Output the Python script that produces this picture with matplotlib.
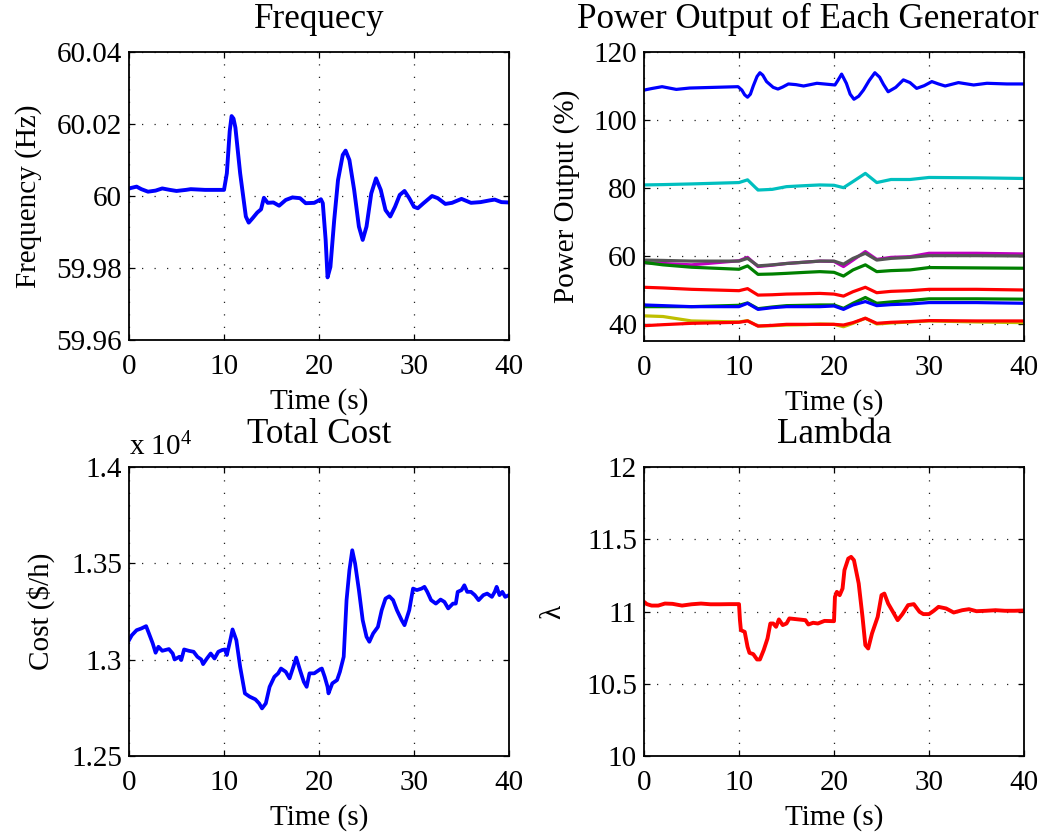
import matplotlib
matplotlib.use("Agg")
import matplotlib.pyplot as plt

plt.rcParams['font.family'] = ['Liberation Serif', 'DejaVu Serif']
plt.rcParams['font.size'] = 21
plt.rcParams['mathtext.fontset'] = 'custom'
plt.rcParams['mathtext.rm'] = 'Liberation Serif'
plt.rcParams['mathtext.default'] = 'regular'

# ---------------- Data ----------------
freq_t = [0, 0.8, 1.3, 2.0, 2.8, 3.5, 4.3, 5.0, 6.0, 6.5, 8.0, 10.0, 10.3, 10.6, 10.8, 11.0,
          11.2, 11.7, 12.3, 12.6, 13.0, 13.5, 13.9, 14.2, 14.6, 15.2, 15.8, 16.5, 17.2,
          18.0, 18.6, 19.5, 20.2, 20.4, 20.7, 20.9, 21.2, 21.6, 22.0, 22.5, 22.8, 23.2,
          23.7, 24.2, 24.6, 25.0, 25.5, 26.0, 26.5, 27.0, 27.5, 28.0, 28.5, 29.0, 29.5,
          30.0, 30.4, 31.0, 31.9, 32.5, 33.3, 34.0, 35.0, 36.0, 37.0, 38.0, 38.5, 39.2, 40.0]
freq_hz = [60.0021, 60.0026, 60.0019, 60.0012, 60.0015, 60.0021, 60.0017, 60.0014, 60.0017,
           60.0019, 60.0017, 60.0017, 60.0063, 60.0180, 60.0222, 60.0215,
           60.0190, 60.0063, 59.9943, 59.9926, 59.9938, 59.9954, 59.9963, 59.9995, 59.9981,
           59.9982, 59.9973, 59.9989, 59.9996, 59.9994, 59.9980, 59.9981, 59.9991, 59.9980,
           59.9878, 59.9774, 59.9803, 59.9933, 60.0044, 60.0114, 60.0126, 60.0100,
           60.0017, 59.9915, 59.9878, 59.9915, 60.0007, 60.0049, 60.0017, 59.9961,
           59.9943, 59.9970, 60.0003, 60.0014, 59.9994, 59.9970, 59.9966, 59.9980,
           60.0000, 59.9994, 59.9978, 59.9981, 59.9992, 59.9981, 59.9983, 59.9988,
           59.9990, 59.9983, 59.9982]

# Generator 1 (largest unit) has its own, denser time base
gen1_t = [0, 0.9, 1.9, 3.4, 4.8, 9.9, 10.3, 10.6, 10.9, 11.2, 11.5, 11.9, 12.2, 12.5, 12.9,
          13.6, 14.1, 14.6, 15.2, 16.0, 16.8, 18.2, 20.1, 20.4, 20.8, 21.3, 21.7, 22.1, 22.6,
          23.1, 23.7, 24.3, 24.8, 25.2, 25.7, 26.5, 27.3, 28.0, 28.7, 29.5, 30.3, 31.0, 31.7,
          33.1, 34.7, 36.1, 38.2, 40.0]
gen_1 = [108.8, 109.3, 109.8, 109.0, 109.4, 109.8, 108.8, 107.4, 106.7, 107.6, 110.0, 112.8,
         113.9, 113.2, 111.3, 109.6, 109.1, 109.7, 110.6, 110.4, 110.0, 110.8, 110.3, 111.6,
         113.5, 110.8, 107.6, 106.1, 107.0, 108.8, 111.6, 113.9, 112.6, 110.5, 108.3, 109.6,
         111.8, 111.0, 109.3, 110.1, 111.3, 110.6, 110.0, 111.0, 110.3, 110.8, 110.6, 110.6]

gen_t = [0, 2, 5, 10, 10.9, 12, 13.5, 15, 17, 18.5, 20, 21, 22, 23.3, 24.5, 26, 28, 30, 35, 40]
gen_2 = [80.9, 81.0, 81.2, 81.6, 82.4, 79.4, 79.6, 80.4, 80.7, 80.9, 80.8, 80.1, 81.9, 84.3,
         81.6, 82.5, 82.5, 83.1, 83.0, 82.8]
gen_3 = [58.0, 57.8, 57.4, 58.6, 59.6, 56.9, 57.3, 57.8, 58.2, 58.5, 58.4, 56.9, 58.8, 61.3,
         59.0, 59.6, 59.8, 60.8, 60.8, 60.6]
gen_4 = [58.8, 58.7, 58.5, 58.5, 59.3, 57.1, 57.4, 57.8, 58.2, 58.5, 58.5, 57.6, 59.3, 60.8,
         58.8, 59.3, 59.6, 60.1, 60.1, 60.0]
gen_5 = [58.1, 57.4, 56.7, 56.1, 57.1, 54.6, 54.7, 54.9, 55.2, 55.4, 55.2, 54.1, 55.9, 57.4,
         55.4, 55.7, 55.9, 56.6, 56.5, 56.4]
gen_6 = [50.8, 50.6, 50.2, 49.8, 50.4, 48.5, 48.6, 48.8, 48.9, 49.0, 48.8, 48.2, 49.5, 50.8,
         49.2, 49.6, 49.8, 50.2, 50.2, 50.0]
gen_7 = [45.1, 45.1, 45.1, 45.5, 46.2, 44.5, 45.0, 45.4, 45.5, 45.6, 45.6, 44.6, 46.1, 47.8,
         46.1, 46.5, 46.9, 47.4, 47.4, 47.3]
gen_8 = [45.6, 45.4, 45.1, 45.1, 46.1, 44.3, 44.8, 45.1, 45.1, 45.1, 45.3, 44.3, 45.6, 46.6,
         45.4, 45.7, 45.9, 46.3, 46.3, 46.1]
gen_9 = [42.4, 42.2, 40.9, 40.6, 41.0, 39.4, 39.5, 39.7, 39.8, 40.0, 39.9, 39.2, 40.2, 41.7,
         40.0, 40.3, 40.6, 40.9, 40.6, 40.4]
gen_10 = [39.5, 39.8, 40.2, 40.5, 40.9, 39.4, 39.6, 39.9, 39.9, 39.9, 39.9, 39.7, 40.4, 41.7,
          40.2, 40.5, 40.7, 41.0, 40.9, 40.9]
gen_series = [gen_2, gen_3, gen_4, gen_5, gen_6, gen_7, gen_8, gen_9, gen_10]

cost_t = [0, 0.3, 0.8, 1.3, 1.8, 2.1, 2.5, 2.8, 3.1, 3.5, 4.2, 4.6, 4.8, 5.3, 5.5, 5.8, 6.3,
          6.8, 7.2, 7.6, 7.8, 8.2, 8.6, 9.0, 9.4, 9.8, 10.1, 10.3, 10.7, 10.9, 11.3, 11.7,
          12.2, 12.7, 13.3, 13.7, 14.0, 14.4, 14.8, 15.3, 15.7, 16.0, 16.5, 16.9, 17.3, 17.6,
          18.0, 18.4, 18.7, 19.0, 19.5, 20.0, 20.3, 20.6, 20.9, 21.0, 21.4, 21.9, 22.2, 22.6,
          22.9, 23.2, 23.5, 23.8, 24.2, 24.6, 25.0, 25.3, 25.7, 26.2, 26.6, 27.0, 27.4, 27.8,
          28.2, 28.7, 29.0, 29.5, 29.9, 30.3, 30.8, 31.1, 31.4, 31.8, 32.3, 32.8, 33.2, 33.6,
          34.1, 34.4, 34.6, 35.0, 35.3, 35.6, 36.0, 36.4, 36.8, 37.3, 37.7, 38.2, 38.5, 38.7,
          39.0, 39.3, 39.6, 40.0]
cost_usd_h = [13101, 13127, 13153, 13162, 13174, 13136, 13084, 13036, 13067, 13046, 13055,
              13032, 13001, 13015, 12998, 13053, 13046, 13041, 13015, 13001, 12977, 13006,
              13032, 13006, 13041, 13050, 13053, 13024, 13110, 13157, 13101, 12963, 12825,
              12808, 12794, 12773, 12747, 12773, 12859, 12911, 12929, 12954, 12937, 12903,
              12963, 13011, 12946, 12885, 12859, 12929, 12929, 12946, 12954, 12911, 12859,
              12825, 12877, 12894, 12937, 13015, 13309, 13464, 13568, 13499, 13361, 13205,
              13119, 13093, 13136, 13170, 13257, 13317, 13329, 13309, 13257, 13205, 13179,
              13257, 13369, 13361, 13369, 13378, 13352, 13309, 13291, 13312, 13300, 13266,
              13291, 13291, 13352, 13361, 13386, 13352, 13352, 13335, 13309, 13335, 13343,
              13326, 13352, 13378, 13335, 13352, 13326, 13335]

lam_t = [0, 0.3, 0.8, 1.5, 2.2, 3, 4, 5, 6, 7, 8, 9, 10, 10.1, 10.2, 10.6, 10.9, 11.1, 11.5,
         11.9, 12.2, 12.6, 13.0, 13.3, 13.6, 13.9, 14.2, 14.6, 15.0, 15.3, 16, 17, 17.3, 17.8,
         18.3, 19, 20, 20.1, 20.3, 20.6, 20.9, 21.1, 21.5, 21.8, 22.1, 22.6, 23.0, 23.3, 23.6,
         24.0, 24.6, 25.0, 25.3, 25.7, 26.2, 26.7, 27.2, 27.8, 28.4, 29, 29.4, 30, 30.5, 31,
         31.8, 32.6, 33.5, 34.2, 35, 36, 37, 38, 39, 40]
lam_val = [11.067, 11.051, 11.041, 11.041, 11.055, 11.053, 11.041, 11.050, 11.055, 11.050,
           11.050, 11.051, 11.051, 10.940, 10.871, 10.859, 10.756, 10.714, 10.705, 10.668,
           10.668, 10.733, 10.813, 10.917, 10.917, 10.894, 10.945, 10.906, 10.917, 10.952,
           10.947, 10.940, 10.910, 10.922, 10.917, 10.935, 10.933, 11.101, 11.136, 11.113,
           11.159, 11.286, 11.366, 11.378, 11.355, 11.194, 10.963, 10.767, 10.744, 10.848,
           10.963, 11.113, 11.124, 11.055, 10.998, 10.940, 10.982, 11.044, 11.051, 10.998,
           10.982, 10.982, 11.005, 11.032, 11.021, 10.993, 11.009, 11.016, 11.002, 11.005,
           11.009, 11.005, 11.005, 11.007]

x_ticks = [0, 10, 20, 30, 40]
freq_ticks = [59.96, 59.98, 60.0, 60.02, 60.04]
freq_ticklabels = ['59.96', '59.98', '60', '60.02', '60.04']
gen_ticks = [40, 60, 80, 100, 120]
cost_ticks = [1.25, 1.3, 1.35, 1.4]
cost_ticklabels = ['1.25', '1.3', '1.35', '1.4']
lam_ticks = [10, 10.5, 11, 11.5, 12]
lam_ticklabels = ['10', '10.5', '11', '11.5', '12']

gen1_color = '#0000ff'
gen_colors = ['#00bfbf', '#bf00bf', '#555555', '#008000', '#ff0000',
              '#008000', '#0000ff', '#bfbf00', '#ff0000']

# ---------------- Figure ----------------
W, H = 1045, 833
fig = plt.figure(figsize=(W / 100, H / 100), dpi=100)

def px_axes(l, t, r, b):
    return fig.add_axes([l / W, (H - b) / H, (r - l) / W, (b - t) / H])

ax_f = px_axes(129, 52, 509, 340)
ax_g = px_axes(644, 52, 1024, 341)
ax_c = px_axes(129, 467, 509, 756)
ax_l = px_axes(644, 467, 1024, 756)

def style(ax):
    ax.set_xlim(0, 40)
    ax.set_xticks(x_ticks)
    ax.grid(True, color='#222222', linestyle=(0, (1, 9)), linewidth=0.9)
    ax.tick_params(direction='in', length=4, width=0.9, top=True, right=True)
    ax.tick_params(axis='x', pad=10)
    ax.tick_params(axis='y', pad=5)
    for s in ax.spines.values():
        s.set_linewidth(1.3)
    ax.set_xlabel('Time (s)', labelpad=6)

ax_f.plot(freq_t, freq_hz, color='#0000ff', lw=2.8)
style(ax_f)
ax_f.set_ylim(59.96, 60.04)
ax_f.set_yticks(freq_ticks)
ax_f.set_yticklabels(freq_ticklabels)
ax_f.set_title('Frequecy', pad=17)
ax_f.set_ylabel('Frequency (Hz)', va='center')
ax_f.yaxis.set_label_coords(-0.265, 0.5)

ax_g.plot(gen1_t, gen_1, color=gen1_color, lw=2.3)
for series, col in zip(gen_series, gen_colors):
    ax_g.plot(gen_t, series, color=col, lw=2.3)
style(ax_g)
ax_g.set_ylim(35, 120)
ax_g.set_yticks(gen_ticks)
ax_g.set_title('Power Output of Each Generator', pad=17, x=0.432)
ax_g.set_ylabel('Power Output (%)', va='center')
ax_g.yaxis.set_label_coords(-0.205, 0.5)

ax_c.plot(cost_t, [c / 1e4 for c in cost_usd_h], color='#0000ff', lw=2.7)
style(ax_c)
ax_c.set_ylim(1.25, 1.4)
ax_c.set_yticks(cost_ticks)
ax_c.set_yticklabels(cost_ticklabels)
ax_c.set_title('Total Cost', pad=17)
ax_c.set_ylabel('Cost ($/h)', va='center')
ax_c.yaxis.set_label_coords(-0.232, 0.5)
ax_c.text(0.0, 1.04, r'x $10^4$', transform=ax_c.transAxes, ha='left', va='baseline')

ax_l.plot(lam_t, lam_val, color='#ff0000', lw=2.8)
style(ax_l)
ax_l.set_ylim(10, 12)
ax_l.set_yticks(lam_ticks)
ax_l.set_yticklabels(lam_ticklabels)
ax_l.set_title('Lambda', pad=17)
ax_l.set_ylabel('λ', va='center')
ax_l.yaxis.set_label_coords(-0.24, 0.5)

fig.savefig('out.png', dpi=100)
